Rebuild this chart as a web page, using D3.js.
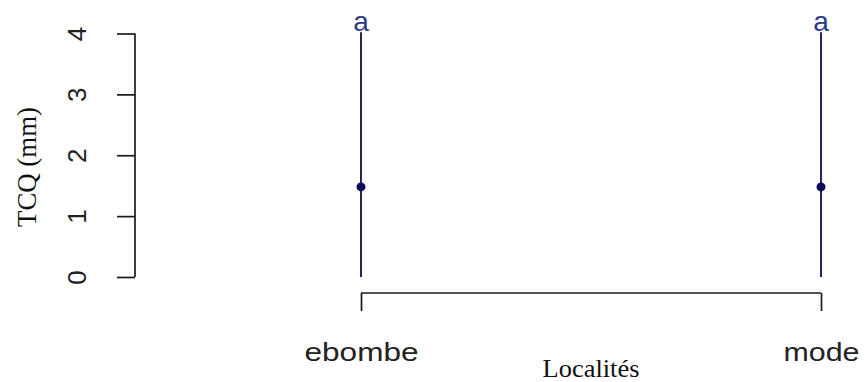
<!DOCTYPE html>
<html>
<head>
<meta charset="utf-8">
<script src="https://cdn.jsdelivr.net/npm/d3@7"></script>
<style>
  html, body { margin: 0; padding: 0; background: #fff; }
  svg { display: block; }
</style>
</head>
<body>
<svg id="chart" width="865" height="382"></svg>
<script>
// Localities and TCQ summary (mean with interval bounds, mm)
const categories = ["ebombe", "mode"];
const means = [1.48, 1.48];
const lowers = [0, 0];
const uppers = [4.02, 4.02];
const groupLetters = ["a", "a"];
const yTicks = [0, 1, 2, 3, 4];

const svg = d3.select("#chart");

const x = d3.scalePoint().domain(categories).range([361, 821]);
const y = d3.scaleLinear().domain([0, 4]).range([277, 33.5]);

const axisColor = "#1a1a1a";
const barColor = "#25255e";
const pointColor = "#0a0a5a";
const letterColor = "#2d3a8a";
const sans = "'Liberation Sans', Arial, sans-serif";
const serif = "'Liberation Serif', 'Times New Roman', serif";

// Y axis
const yAxis = svg.append("g")
  .attr("transform", "translate(135,0)")
  .call(d3.axisLeft(y).tickValues(yTicks).tickSize(18).tickSizeOuter(0).tickFormat(d3.format("d")));
yAxis.select(".domain").attr("stroke", axisColor).attr("stroke-width", 1.7)
  .attr("d", `M0,${y(0)}V${y(4)}`);
yAxis.selectAll(".tick line").attr("stroke", axisColor).attr("stroke-width", 1.7);
yAxis.selectAll(".tick text").remove();
yAxis.selectAll(".tick").append("text")
  .attr("transform", "translate(-49,0) rotate(-90)")
  .attr("text-anchor", "middle")
  .attr("font-family", sans)
  .attr("font-size", 26)
  .attr("fill", "#222")
  .text(d => d);

// X axis
const xAxis = svg.append("g")
  .attr("transform", "translate(0,293)")
  .call(d3.axisBottom(x).tickSize(18).tickSizeOuter(0));
xAxis.select(".domain").attr("stroke", axisColor).attr("stroke-width", 1.7)
  .attr("d", `M${x(categories[0])},0H${x(categories[1])}`);
xAxis.selectAll(".tick line").attr("stroke", axisColor).attr("stroke-width", 1.7);
xAxis.selectAll(".tick text").remove();
const xLabelLen = { ebombe: 114, mode: 76 };
xAxis.selectAll(".tick").append("text")
  .attr("y", 68)
  .attr("text-anchor", "middle")
  .attr("font-family", sans)
  .attr("font-size", 26)
  .attr("fill", "#222")
  .attr("textLength", d => xLabelLen[d])
  .attr("lengthAdjust", "spacingAndGlyphs")
  .text(d => d);

// Axis titles
svg.append("text")
  .attr("x", 591).attr("y", 377)
  .attr("text-anchor", "middle")
  .attr("font-family", serif)
  .attr("font-size", 25)
  .attr("fill", "#111")
  .attr("textLength", 97)
  .attr("lengthAdjust", "spacingAndGlyphs")
  .text("Localités");

svg.append("text")
  .attr("transform", "translate(36,167) rotate(-90)")
  .attr("text-anchor", "middle")
  .attr("font-family", serif)
  .attr("font-size", 27)
  .attr("fill", "#111")
  .attr("textLength", 120)
  .attr("lengthAdjust", "spacingAndGlyphs")
  .text("TCQ (mm)");

// Interval bars, mean points and group letters
const data = categories.map((c, i) => ({
  cat: c, mean: means[i], lo: lowers[i], hi: uppers[i], letter: groupLetters[i]
}));

const marks = svg.append("g");
marks.selectAll("line.bar").data(data).join("line")
  .attr("class", "bar")
  .attr("x1", d => x(d.cat)).attr("x2", d => x(d.cat))
  .attr("y1", d => y(d.lo)).attr("y2", d => y(d.hi))
  .attr("stroke", barColor).attr("stroke-width", 2);

marks.selectAll("circle.mean").data(data).join("circle")
  .attr("class", "mean")
  .attr("cx", d => x(d.cat)).attr("cy", d => y(d.mean))
  .attr("r", 4.5)
  .attr("fill", pointColor);

marks.selectAll("text.letter").data(data).join("text")
  .attr("class", "letter")
  .attr("x", d => x(d.cat)).attr("y", d => y(d.hi) - 1)
  .attr("text-anchor", "middle")
  .attr("font-family", sans)
  .attr("font-size", 28)
  .attr("fill", letterColor)
  .text(d => d.letter);
</script>
</body>
</html>
